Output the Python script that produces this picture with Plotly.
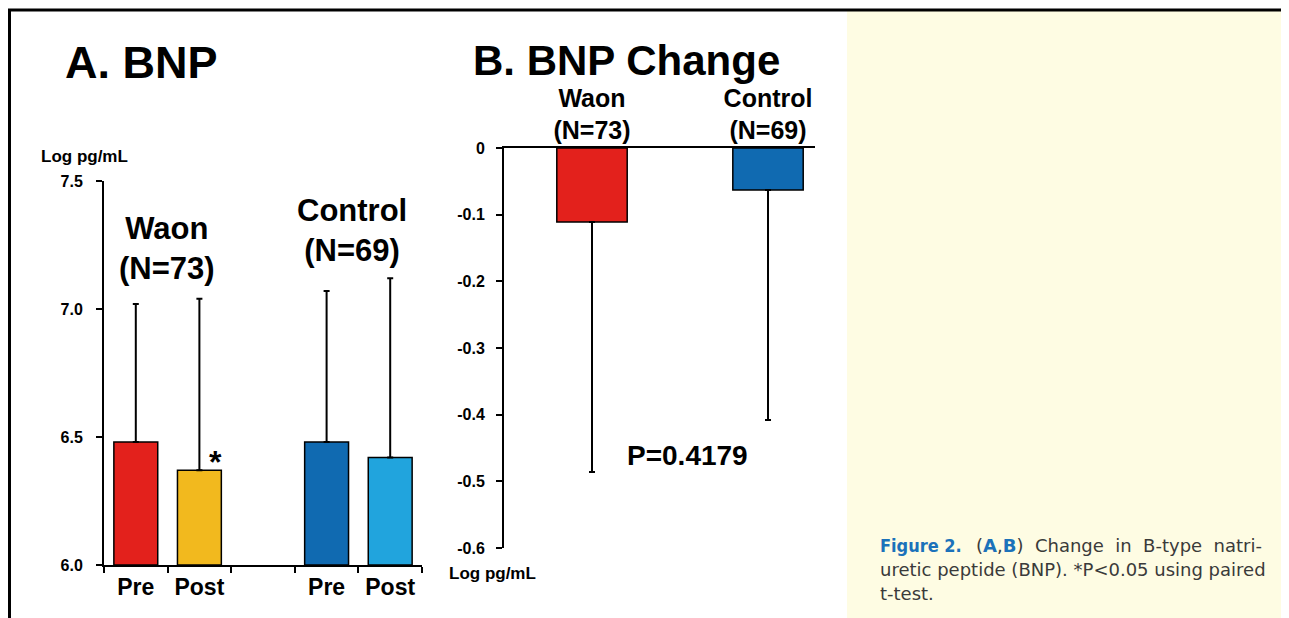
import plotly.graph_objects as go

# ---------------- data ----------------
a_categories = ["Waon Pre", "Waon Post", "gap", "Control Pre", "Control Post"]
a_ticktext = ["Pre", "Post", "", "Pre", "Post"]
a_bar_cats = ["Waon Pre", "Waon Post", "Control Pre", "Control Post"]
a_means = [6.48, 6.37, 6.48, 6.42]
a_sd = [0.54, 0.67, 0.59, 0.70]
a_colors = ["#E3211C", "#F2B91E", "#106AB1", "#21A4DD"]
a_yticks = [6.0, 6.5, 7.0, 7.5]
a_yticktext = ["6.0", "6.5", "7.0", "7.5"]

b_categories = ["Waon<br>(N=73)", "Control<br>(N=69)"]
b_means = [-0.111, -0.063]
b_sd = [0.375, 0.345]
b_colors = ["#E3211C", "#106AB1"]
b_yticks = [0, -0.1, -0.2, -0.3, -0.4, -0.5, -0.6]
b_yticktext = ["0", "-0.1", "-0.2", "-0.3", "-0.4", "-0.5", "-0.6"]

OFF = 8  # page body margin offset
W, H = 1289 - OFF, 618 - OFF
FONT = "Liberation Sans, Arial, Helvetica, sans-serif"


def px(x):
    return (x - OFF) / W


def py(y):
    return 1 - (y - OFF) / H


fig = go.Figure()

fig.add_trace(go.Bar(
    x=a_bar_cats, y=[m - 6.0 for m in a_means], base=6.0,
    marker=dict(color=a_colors, line=dict(color="black", width=1.5)),
    width=0.69,
    error_y=dict(type="data", symmetric=False, array=a_sd, arrayminus=[0] * 4,
                 color="black", thickness=2, width=3),
    xaxis="x", yaxis="y", showlegend=False,
))

fig.add_trace(go.Bar(
    x=b_categories, y=b_means,
    marker=dict(color=b_colors, line=dict(color="black", width=1.5)),
    width=0.40,
    error_y=dict(type="data", symmetric=False, array=[0, 0], arrayminus=b_sd,
                 color="black", thickness=2, width=3),
    xaxis="x2", yaxis="y2", showlegend=False,
))

axis_font = dict(family=FONT, color="black", weight="bold")

fig.update_layout(
    width=W, height=H,
    margin=dict(l=0, r=0, t=0, b=0, autoexpand=False),
    paper_bgcolor="white", plot_bgcolor="rgba(0,0,0,0)",
    font=dict(family=FONT, color="black"),
    xaxis=dict(
        domain=[px(104), px(422)], type="category",
        categoryorder="array", categoryarray=a_categories,
        tickmode="array", tickvals=a_categories, ticktext=a_ticktext,
        tickson="boundaries", range=[-0.5, 4.5],
        ticks="outside", ticklen=6, tickwidth=1.5, tickcolor="black",
        showline=True, linecolor="black", linewidth=2,
        showgrid=False, zeroline=False, automargin=False,
        tickfont=dict(size=23, **axis_font), anchor="y",
    ),
    yaxis=dict(
        domain=[py(565), py(181)], range=[6.0, 7.5],
        tickmode="array", tickvals=a_yticks, ticktext=a_yticktext,
        ticks="outside", ticklen=6, tickwidth=1.5, tickcolor="black",
        showline=True, linecolor="black", linewidth=2,
        showgrid=False, zeroline=False, automargin=False,
        tickfont=dict(size=16, **axis_font), anchor="x", ticklabelstandoff=10,
    ),
    xaxis2=dict(
        domain=[px(504), px(815)], type="category",
        range=[-0.5, 1.267], side="top",
        ticks="", showline=True, linecolor="black", linewidth=1.5,
        showgrid=False, zeroline=False, automargin=False,
        tickfont=dict(size=25, **axis_font), anchor="y2", ticklabelstandoff=-3,
    ),
    yaxis2=dict(
        domain=[py(548), py(148)], range=[-0.6, 0],
        tickmode="array", tickvals=b_yticks, ticktext=b_yticktext,
        ticks="outside", ticklen=6, tickwidth=1.5, tickcolor="black",
        showline=True, linecolor="black", linewidth=2,
        showgrid=False, zeroline=False, automargin=False,
        tickfont=dict(size=16, **axis_font), anchor="x2", ticklabelstandoff=8,
    ),
)

shapes = [
    # yellow caption panel
    dict(type="rect", xref="paper", yref="paper", x0=px(847), x1=1.01, y0=-0.05, y1=py(11),
         fillcolor="#FEFCE3", line=dict(width=0), layer="below"),
    # frame lines
    dict(type="line", xref="paper", yref="paper", x0=px(8), x1=1.01, y0=py(10), y1=py(10),
         line=dict(color="black", width=3)),
    dict(type="line", xref="paper", yref="paper", x0=px(9.5), x1=px(9.5), y0=py(9), y1=-0.05,
         line=dict(color="black", width=3)),
]
fig.update_layout(shapes=shapes)


def ann(text, x, y, size, xanchor="left", yanchor="middle", bold=True, color="black",
        family=FONT, align="left"):
    return dict(text=text, x=px(x), y=py(y), xref="paper", yref="paper",
                xanchor=xanchor, yanchor=yanchor, showarrow=False, align=align,
                font=dict(size=size, color=color, family=family,
                          weight="bold" if bold else "normal"))


cap_col = "#3A3A3A"
blue = "#1B72BA"
CAP_FONT = "DejaVu Sans, Verdana, sans-serif"
sp = "&nbsp;"
annotations = [
    ann("A. BNP", 63, 62, 45),
    ann("B. BNP Change", 471, 60, 42),
    ann("Log pg/mL", 39, 157, 17),
    ann("Log pg/mL", 447, 573, 17),
    ann("Waon<br>(N=73)", 167, 248, 31, xanchor="center", align="center"),
    ann("Control<br>(N=69)", 352, 230, 31, xanchor="center", align="center"),
    ann("*", 215, 462, 32, xanchor="center"),
    ann("P=0.4179", 625, 455, 28),
    ann("Figure 2.", 878, 545, 18, color=blue,
        family="Liberation Sans Narrow, DejaVu Sans Condensed, Arial Narrow, sans-serif"),
    ann(("(<span style='color:%s'><b>A</b></span>,<span style='color:%s'><b>B</b></span>)"
         + sp * 2 + "Change" + sp * 2 + "in" + sp * 2 + "B-type" + sp * 2 + "natri-") % (blue, blue),
        974, 545, 18, bold=False, color=cap_col, family=CAP_FONT),
    ann("uretic peptide (BNP). *P<0.05 using paired", 878, 569, 18, bold=False,
        color=cap_col, family=CAP_FONT),
    ann("t-test.", 878, 593, 18, bold=False, color=cap_col, family=CAP_FONT),
]
fig.update_layout(annotations=annotations)

fig.write_html("out.html")
